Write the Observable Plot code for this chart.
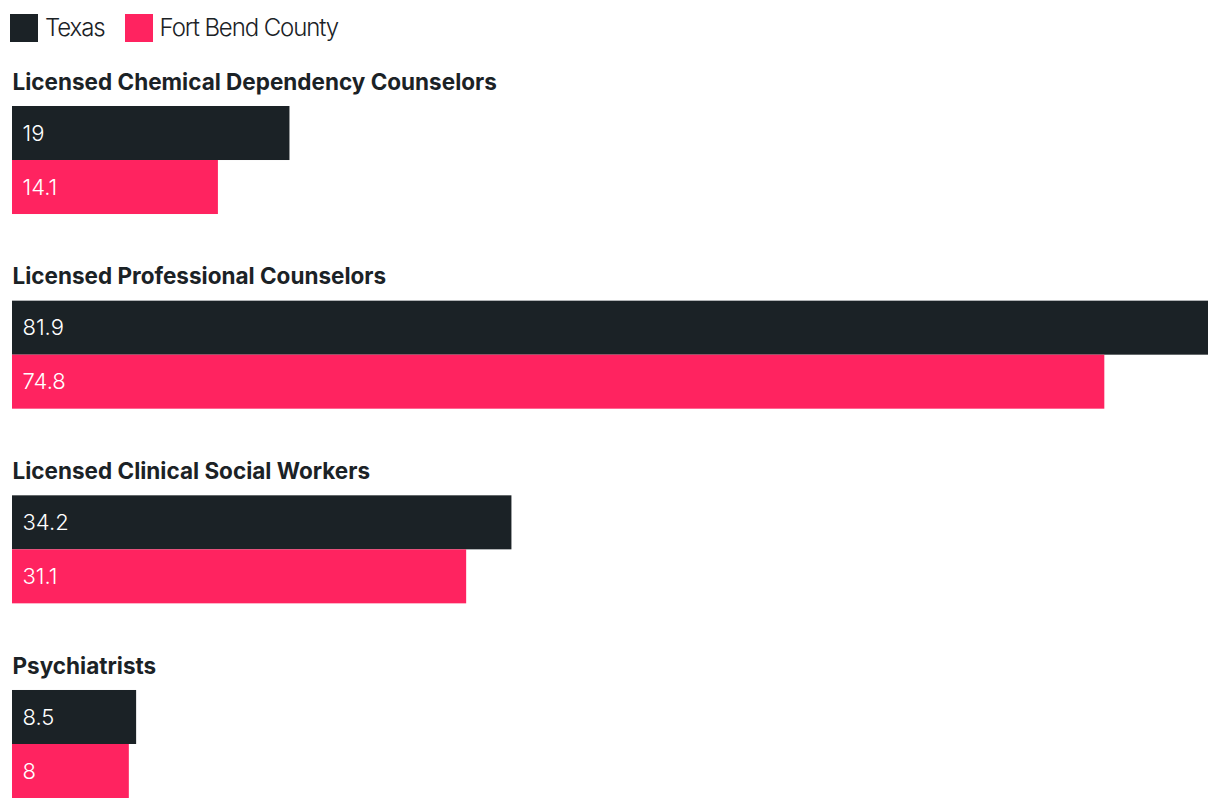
<!DOCTYPE html>
<html>
<head>
<meta charset="utf-8">
<script src="https://cdn.jsdelivr.net/npm/d3@7"></script>
<script src="https://cdn.jsdelivr.net/npm/@observablehq/plot@0.6"></script>
<style>
  html, body { margin: 0; padding: 0; background: #fff; }
  body { width: 1220px; height: 808px; overflow: hidden; font-family: Inter, "Noto Sans", sans-serif; color: #1b2226; }
  #legend { height: 50px; box-sizing: border-box; padding: 14px 0 0 10px; display: flex; align-items: flex-start; }
  #legend .item { display: flex; align-items: center; margin-right: 20px; height: 28px; }
  #legend .sw { width: 28px; height: 28px; margin-right: 7px; }
  #legend .lab { font-size: 24px; line-height: 28px; font-weight: 300; letter-spacing: -1.1px; }
  svg { display: block; }
</style>
</head>
<body>
<div id="legend"></div>
<div id="chart"></div>
<script>
const categories = [
  "Licensed Chemical Dependency Counselors",
  "Licensed Professional Counselors",
  "Licensed Clinical Social Workers",
  "Psychiatrists"
];
const seriesNames = ["Texas", "Fort Bend County"];
const seriesColors = ["#1b2226", "#ff2360"];
const texasValues = [19, 81.9, 34.2, 8.5];
const fortBendValues = [14.1, 74.8, 31.1, 8];

const texasData = categories.map((c, i) => ({category: c, value: texasValues[i], series: seriesNames[0]}));
const fbData = categories.map((c, i) => ({category: c, value: fortBendValues[i], series: seriesNames[1]}));

// Legend
const legend = document.getElementById("legend");
seriesNames.forEach((s, i) => {
  const item = document.createElement("div");
  item.className = "item";
  const sw = document.createElement("div");
  sw.className = "sw";
  sw.style.background = seriesColors[i];
  const lab = document.createElement("span");
  lab.className = "lab";
  lab.textContent = s;
  item.appendChild(sw);
  item.appendChild(lab);
  legend.appendChild(item);
});

const chart = Plot.plot({
  width: 1220,
  height: 758,
  marginLeft: 12,
  marginRight: 12,
  marginTop: 26,
  marginBottom: 10,
  style: {fontFamily: "Inter, 'Noto Sans', sans-serif", background: "#fff"},
  x: {domain: [0, d3.max(texasValues.concat(fortBendValues))], axis: null},
  y: {domain: categories, paddingInner: 0.291, paddingOuter: 0, round: false, axis: null},
  color: {domain: seriesNames, range: seriesColors},
  marks: [
    Plot.barX(texasData, {x: "value", y: "category", fill: "series", insetTop: 30, insetBottom: 54}),
    Plot.barX(fbData, {x: "value", y: "category", fill: "series", insetTop: 84, insetBottom: 0}),
    Plot.text(categories, {x: () => 0, y: d => d, text: d => d, textAnchor: "start", lineAnchor: "middle", dy: -63, fontSize: 22.5, fontWeight: 700, fill: "#1b2226"}),
    Plot.text(texasData, {x: () => 0, y: "category", text: d => String(d.value), textAnchor: "start", dx: 10, dy: -12, fontSize: 22, fontWeight: 300, letterSpacing: "-0.3px", fill: "#fff"}),
    Plot.text(fbData, {x: () => 0, y: "category", text: d => String(d.value), textAnchor: "start", dx: 10, dy: 42, fontSize: 22, fontWeight: 300, letterSpacing: "-0.3px", fill: "#fff"})
  ]
});
document.getElementById("chart").appendChild(chart);
</script>
</body>
</html>
